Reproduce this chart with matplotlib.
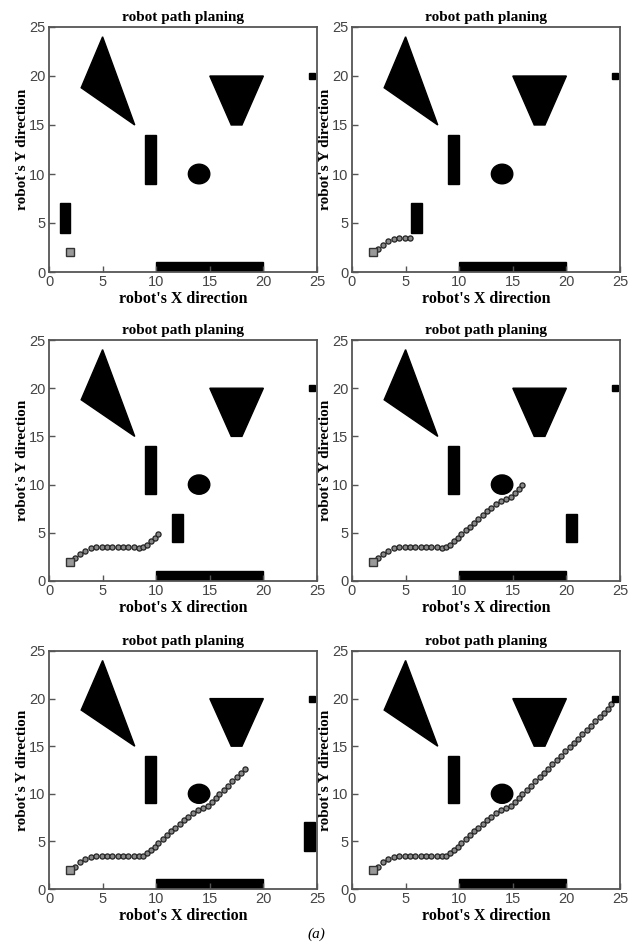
import matplotlib
matplotlib.use('Agg')
import matplotlib.pyplot as plt
from matplotlib.patches import Polygon, Rectangle, Ellipse

# static obstacles
triangle = [(5, 24), (3, 18.8), (8, 15)]
trapezoid = [(15, 20), (20, 20), (18, 15), (17, 15)]
bar_v = (9, 9, 1, 5)       # x, y, w, h
bar_h = (10, 0, 10, 1)
circle_c = (14, 10)
circle_r = 1.0

# moving obstacle (lower-left x per frame), None = gone
moving_x = [1, 5.5, 11.5, 20, 23.8, None]
moving_y, moving_w, moving_h = 4, 1, 3

start = (2, 2)
goal = (24.5, 20)

# planned path points
path_x = [2.45, 2.9, 3.4, 3.9, 4.4, 4.9, 5.4, 5.9, 6.4, 6.9, 7.4, 7.9, 8.4, 8.8,
          9.15, 9.5, 9.85, 10.2, 10.6, 11.0, 11.4, 11.8, 12.2, 12.6, 13.0, 13.45,
          13.9, 14.35, 14.8, 15.2, 15.55, 15.9, 16.3, 16.7, 17.1, 17.5, 17.9, 18.3,
          18.7, 19.1, 19.5, 19.9, 20.3, 20.7, 21.1, 21.5, 21.9, 22.3, 22.7, 23.1,
          23.5, 23.9, 24.2]
path_y = [2.35, 2.8, 3.15, 3.4, 3.5, 3.5, 3.5, 3.5, 3.5, 3.5, 3.5, 3.5, 3.45, 3.5,
          3.75, 4.1, 4.45, 4.85, 5.25, 5.65, 6.05, 6.45, 6.85, 7.25, 7.6, 7.95,
          8.25, 8.5, 8.75, 9.15, 9.55, 9.95, 10.4, 10.85, 11.3, 11.75, 12.2, 12.65,
          13.1, 13.55, 14.0, 14.45, 14.9, 15.35, 15.8, 16.25, 16.7, 17.15, 17.6, 18.05,
          18.5, 18.95, 19.4]
# number of path points shown in each frame
n_shown = [0, 7, 18, 32, 38, len(path_x)]

fig = plt.figure(figsize=(6.32, 9.47), dpi=100)
W, H = 632, 947

col_left = [49, 352]
ax_w = 268
rows = [(27, 272), (340, 581), (651, 889)]

serif = ['Liberation Serif', 'DejaVu Serif']
frame_col = '#555555'

for k in range(6):
    r, c = k // 2, k % 2
    top, bot = rows[r]
    ax = fig.add_axes([col_left[c] / W, 1 - bot / H, ax_w / W, (bot - top) / H])
    ax.set_xlim(0, 25)
    ax.set_ylim(0, 25)

    ax.add_patch(Polygon(triangle, closed=True, color='black'))
    ax.add_patch(Polygon(trapezoid, closed=True, color='black'))
    ax.add_patch(Rectangle(bar_v[:2], bar_v[2], bar_v[3], color='black'))
    ax.add_patch(Rectangle(bar_h[:2], bar_h[2], bar_h[3], color='black'))
    ax.add_patch(Ellipse(circle_c, 2 * circle_r, 2 * circle_r, color='black'))
    if moving_x[k] is not None:
        ax.add_patch(Rectangle((moving_x[k], moving_y), moving_w, moving_h,
                               color='black', clip_on=True))

    n = n_shown[k]
    if n > 0:
        ax.plot(path_x[:n], path_y[:n], linestyle='none', marker='o', markersize=3.7,
                markerfacecolor='#888888', markeredgecolor='#222222', markeredgewidth=0.9)
    ax.plot(goal[0], goal[1], marker='s', markersize=5, color='black', linestyle='none')
    ax.plot(start[0], start[1], marker='s', markersize=5.5, markerfacecolor='#999999',
            markeredgecolor='#333333', markeredgewidth=1, linestyle='none')

    ax.set_xticks([0, 5, 10, 15, 20, 25])
    ax.set_yticks([0, 5, 10, 15, 20, 25])
    ax.tick_params(direction='in', length=4, width=1, colors=frame_col,
                   labelsize=10.5, pad=2.5, top=False, right=False)
    for lab in ax.get_xticklabels() + ax.get_yticklabels():
        lab.set_family(['Liberation Sans', 'DejaVu Sans'])
        lab.set_color('#444444')
    for sp in ax.spines.values():
        sp.set_color(frame_col)
        sp.set_linewidth(1.3)

    ax.set_title('robot path planing', family=serif, fontweight='bold',
                 fontsize=11, pad=4)
    ax.set_xlabel("robot's X direction", family=serif, fontweight='bold',
                  fontsize=11.5, labelpad=1)
    ax.set_ylabel("robot's Y direction", family=serif, fontweight='bold',
                  fontsize=11, labelpad=0)

fig.text(316 / W, 1 - 934 / H, '(a)', family=serif, style='italic',
         fontsize=11, ha='center', va='center')

fig.savefig('out.png', dpi=100)
